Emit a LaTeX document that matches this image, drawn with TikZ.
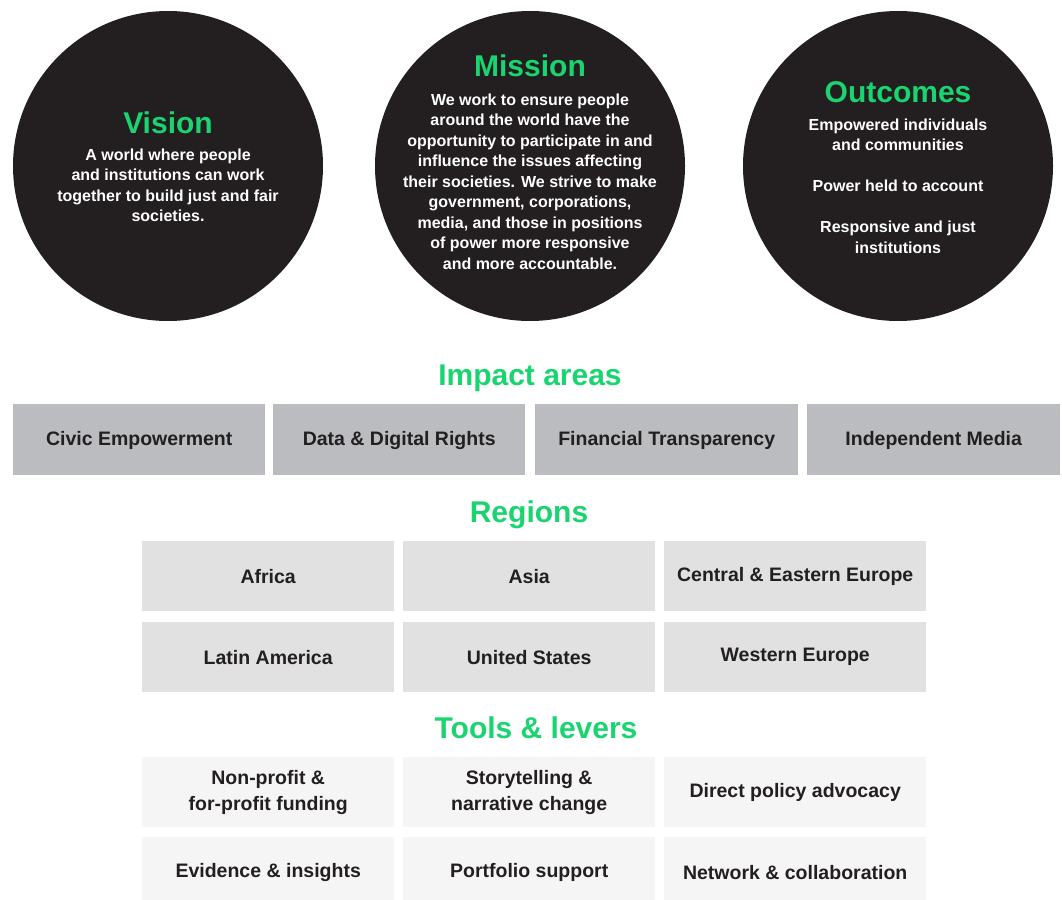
\documentclass[tikz,border=0pt]{standalone}
\usepackage{fontspec}
\setmainfont{Liberation Sans}
\definecolor{brandgreen}{HTML}{19D46F}
\definecolor{ink}{HTML}{231F20}
\definecolor{areagray}{HTML}{BBBCBF}
\definecolor{regiongray}{HTML}{E1E1E1}
\definecolor{toolgray}{HTML}{F5F5F5}
% centred paragraph whose baseline is its first line
\newcommand{\firstlinepar}[1]{\parbox[t]{300pt}{\centering #1}}
\begin{document}
\begin{tikzpicture}[x=1pt,y=-1pt,
  disc/.style={circle,fill=ink,minimum size=310pt,inner sep=0pt},
  heading/.style={text=brandgreen,font=\fontsize{30}{36}\selectfont\bfseries,anchor=base,inner sep=0pt},
  body/.style={text=white,font=\fontsize{16}{20.5}\selectfont\bfseries,anchor=base,inner sep=0pt},
  tile/.style={anchor=north west,inner sep=0pt,minimum height=71pt,text=ink,align=center,
    font=\fontsize{19.5}{26}\selectfont\bfseries},
  areatile/.style={tile,fill=areagray,text depth=2pt},
  regiontile/.style={tile,fill=regiongray,minimum height=70pt},
  tooltile/.style={tile,fill=toolgray,minimum height=70pt},
]
\useasboundingbox (0,0) rectangle (1062,899);

% --- three discs ---
\node[disc] (vision) at (168,166) {};
\node[disc] (mission) at (530,166) {};
\node[disc] (outcomes) at (898,166) {};

\node[heading] (visiont) at (168,133) {Vision};
\node[body] (visionb) at (168,160) {\firstlinepar{A world where people\\ and institutions can work\\ together to build just and fair\\ societies.}};

\node[heading] (missiont) at (530,77) {Mission};
\node[body] (missionb) at (530,105) {\firstlinepar{We work to ensure people\\ around the world have the\\ opportunity to participate in and\\ influence the issues affecting\\ their societies. We strive to make\\ government, corporations,\\ media, and those in positions\\ of power more responsive\\ and more accountable.}};

\node[heading] (outcomest) at (898,102) {Outcomes};
\node[body] (outcomesb) at (898,130) {\firstlinepar{Empowered individuals\\ and communities\\[20.5pt] Power held to account\\[20.5pt] Responsive and just\\ institutions}};

% --- impact areas ---
\node[heading] (impact) at (530,385) {Impact areas};
\node[areatile,minimum width=252pt] (civic) at (13,404) {Civic Empowerment};
\node[areatile,minimum width=252pt] (data) at (273,404) {Data \& Digital Rights};
\node[areatile,minimum width=263pt] (finance) at (535,404) {Financial Transparency};
\node[areatile,minimum width=253pt] (media) at (807,404) {Independent Media};

% --- regions ---
\node[heading] (regions) at (529,522) {Regions};
\node[regiontile,minimum width=252pt] (africa) at (142,541) {Africa};
\node[regiontile,minimum width=252pt] (asia) at (403,541) {Asia};
\node[regiontile,minimum width=262pt] (cee) at (664,541) {Central \& Eastern Europe};
\node[regiontile,minimum width=252pt] (latam) at (142,622) {Latin America};
\node[regiontile,minimum width=252pt] (us) at (403,622) {United States};
\node[regiontile,minimum width=262pt] (weu) at (664,622) {Western Europe};

% --- tools & levers (bottom row runs off the page edge) ---
\node[heading] (tools) at (536,738) {Tools \& levers};
\node[tooltile,minimum width=252pt] (funding) at (142,757) {Non-profit \&\\ for-profit funding};
\node[tooltile,minimum width=252pt] (story) at (403,757) {Storytelling \&\\ narrative change};
\node[tooltile,minimum width=262pt] (policy) at (664,757) {Direct policy advocacy};
\node[tooltile,minimum width=252pt] (evidence) at (142,837) {Evidence \& insights};
\node[tooltile,minimum width=252pt] (portfolio) at (403,837) {Portfolio support};
\node[tooltile,minimum width=262pt] (network) at (664,837) {Network \& collaboration};
\end{tikzpicture}
\end{document}
